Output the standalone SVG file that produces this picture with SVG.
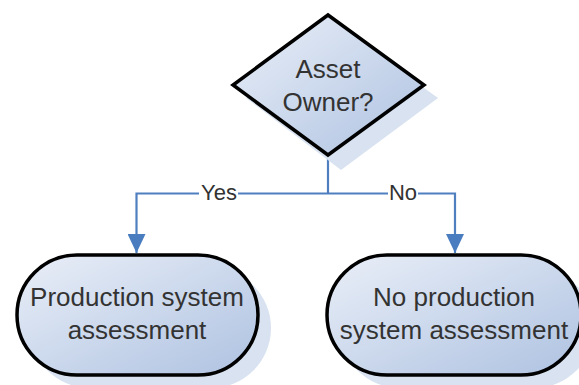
<svg xmlns="http://www.w3.org/2000/svg" width="579" height="385" viewBox="0 0 579 385">
<defs>
<linearGradient id="fillG" x1="0" y1="0" x2="1" y2="1">
<stop offset="0" stop-color="#eaeff8"/>
<stop offset="1" stop-color="#aec2e1"/>
</linearGradient>
<marker id="arr" markerUnits="userSpaceOnUse" markerWidth="19" markerHeight="18" refX="19" refY="9" orient="auto">
<path d="M0,0 L19,9 L0,18 z" fill="#4a7dc0"/>
</marker>
<style>
.shape{fill:url(#fillG);stroke:#000;stroke-width:3.5;stroke-linejoin:miter}
.shadow{fill:#d8e2f0;stroke:none}
.txt{font-family:"Liberation Sans",Arial,sans-serif;font-size:26px;fill:#333;text-anchor:middle}
.lbl{font-family:"Liberation Sans",Arial,sans-serif;font-size:22px;fill:#333;text-anchor:middle}
.conn{fill:none;stroke:#4f7fbf;stroke-width:2.2}
</style>
</defs>
<rect width="579" height="385" fill="#fff"/>
<g id="connectors">
<path class="conn" d="M328,156 V193.5"/>
<path class="conn" d="M328,193.5 H136.5 V253" marker-end="url(#arr)"/>
<path class="conn" d="M328,193.5 H455 V253" marker-end="url(#arr)"/>
<rect x="199" y="182" width="39" height="22" fill="#fff"/>
<text class="lbl" x="219" y="200">Yes</text>
<rect x="388" y="182" width="30" height="22" fill="#fff"/>
<text class="lbl" x="403" y="200">No</text>
</g>
<g id="decision">
<polygon class="shadow" points="341,28 438,98 341,170 246,98"/>
<polygon class="shape" points="328,15 424,85 328,155 233,85"/>
<text class="txt" x="328" y="78">Asset</text>
<text class="txt" x="328" y="111">Owner?</text>
</g>
<g id="yes-node">
<rect class="shadow" x="30" y="268" width="241" height="120" rx="60" ry="60"/>
<rect class="shape" x="17" y="255" width="241" height="120" rx="60" ry="60" stroke-width="3"/>
<text class="txt" x="137" y="306">Production system</text>
<text class="txt" x="137" y="339">assessment</text>
</g>
<g id="no-node">
<rect class="shadow" x="340" y="268" width="254" height="120" rx="60" ry="60"/>
<rect class="shape" x="327" y="255" width="254" height="120" rx="60" ry="60" stroke-width="3"/>
<text class="txt" x="454" y="306">No production</text>
<text class="txt" x="454" y="339">system assessment</text>
</g>
</svg>
